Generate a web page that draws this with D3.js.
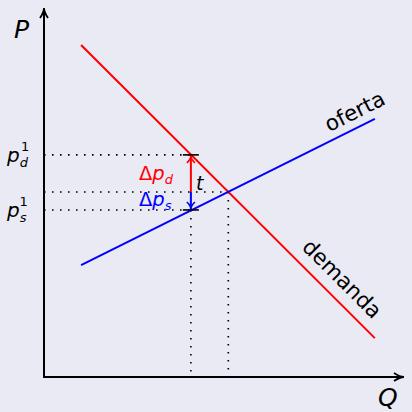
<!DOCTYPE html>
<html>
<head>
<meta charset="utf-8">
<script src="https://cdn.jsdelivr.net/npm/d3@7"></script>
<style>
  html, body { margin: 0; padding: 0; background: #eaeaf4; }
  text { font-family: "DejaVu Sans", sans-serif; }
</style>
</head>
<body>
<div id="chart"></div>
<script>
// line endpoints (units: Q 0..10, P 0..10)
const demandQ = [1.03, 9.19];
const demandP = [9.22, 1.08];
const supplyQ = [1.03, 9.19];
const supplyP = [3.11, 7.17];

// tax quantity / prices
const qTax = 4.08;
const pBuyer = 6.17;   // p_d^1
const pSeller = 4.64;  // p_s^1
const qEq = 5.12;
const pEq = 5.14;

const width = 412, height = 412;
const margin = { top: 17, right: 8, bottom: 35, left: 44 };

const x = d3.scaleLinear().domain([0, 10]).range([margin.left, margin.left + 360]);
const y = d3.scaleLinear().domain([0, 10]).range([377, 17]);

const svg = d3.create("svg")
    .attr("width", width)
    .attr("height", height);

svg.append("rect").attr("width", width).attr("height", height).attr("fill", "#eaeaf4");

// dotted guide lines
const dotted = (x1, y1, x2, y2) => svg.append("line")
    .attr("x1", x1).attr("y1", y1).attr("x2", x2).attr("y2", y2)
    .attr("stroke", "#000")
    .attr("stroke-width", 1.6)
    .attr("stroke-dasharray", "1.6 6.4");

dotted(x(0), y(pBuyer), x(qTax), y(pBuyer));
dotted(x(0), y(pEq), x(qEq), y(pEq));
dotted(x(0), y(pSeller), x(qTax), y(pSeller));
dotted(x(qTax), y(pSeller), x(qTax), y(0));
dotted(x(qEq), y(pEq), x(qEq), y(0));

// curves
const line = d3.line().x(d => x(d[0])).y(d => y(d[1]));
svg.append("path")
    .attr("d", line(d3.zip(demandQ, demandP)))
    .attr("stroke", "#ff0000").attr("stroke-width", 2).attr("fill", "none");
svg.append("path")
    .attr("d", line(d3.zip(supplyQ, supplyP)))
    .attr("stroke", "#0000ff").attr("stroke-width", 2).attr("fill", "none");

// small ticks at p_d and p_s on the tax quantity
[pBuyer, pSeller].forEach(p => {
    svg.append("line")
        .attr("x1", x(qTax) - 8).attr("x2", x(qTax) + 8)
        .attr("y1", y(p)).attr("y2", y(p))
        .attr("stroke", "#000").attr("stroke-width", 1.6);
});

// arrows: red up to p_d, blue down to p_s
const head = (cx, cy, dir, color) => {
    // open arrow head, dir = -1 up, 1 down
    svg.append("path")
        .attr("d", `M${cx - 4},${cy - dir * 7} Q${cx},${cy - dir * 3} ${cx},${cy} Q${cx},${cy - dir * 3} ${cx + 4},${cy - dir * 7}`)
        .attr("stroke", color).attr("stroke-width", 1.6).attr("fill", "none");
};
svg.append("line")
    .attr("x1", x(qTax)).attr("x2", x(qTax))
    .attr("y1", y(pEq)).attr("y2", y(pBuyer) + 1)
    .attr("stroke", "#ff0000").attr("stroke-width", 2);
head(x(qTax), y(pBuyer) + 1, -1, "#ff0000");
svg.append("line")
    .attr("x1", x(qTax)).attr("x2", x(qTax))
    .attr("y1", y(pEq)).attr("y2", y(pSeller) - 1)
    .attr("stroke", "#0000ff").attr("stroke-width", 2);
head(x(qTax), y(pSeller) - 1, 1, "#0000ff");

// axes with arrows
svg.append("line")
    .attr("x1", x(0)).attr("y1", y(0)).attr("x2", x(0)).attr("y2", 9)
    .attr("stroke", "#000").attr("stroke-width", 2);
svg.append("line")
    .attr("x1", x(0) - 1).attr("y1", y(0)).attr("x2", 403).attr("y2", y(0))
    .attr("stroke", "#000").attr("stroke-width", 2);
svg.append("path")
    .attr("d", `M${x(0) - 4},${18} Q${x(0)},${12} ${x(0)},${8} Q${x(0)},${12} ${x(0) + 4},${18}`)
    .attr("stroke", "#000").attr("stroke-width", 1.8).attr("fill", "none");
svg.append("path")
    .attr("d", `M394,${y(0) - 4} Q400,${y(0)} 404,${y(0)} Q400,${y(0)} 394,${y(0) + 4}`)
    .attr("stroke", "#000").attr("stroke-width", 1.8).attr("fill", "none");

// axis labels
svg.append("text").attr("x", 14).attr("y", 38)
    .attr("font-size", 25).attr("font-style", "italic").text("P");
svg.append("text").attr("x", 378).attr("y", 406)
    .attr("font-size", 25).attr("font-style", "italic").text("Q");

// price labels p_d^1, p_s^1
const priceLabel = (p, sub) => {
    const t = svg.append("text").attr("x", 7).attr("y", y(p) + 7)
        .attr("font-size", 20).attr("font-style", "italic");
    t.append("tspan").text("p");
    t.append("tspan").attr("font-size", 13).attr("dy", 5).text(sub);
    t.append("tspan").attr("font-size", 13).attr("font-style", "normal")
        .attr("dx", -7).attr("dy", -16).text("1");
};
priceLabel(pBuyer, "d");
priceLabel(pSeller, "s");

// delta labels
const deltaLabel = (yy, sub, color) => {
    const t = svg.append("text").attr("x", 139).attr("y", yy)
        .attr("font-size", 19.5).attr("fill", color);
    t.append("tspan").text("Δ");
    t.append("tspan").attr("font-style", "italic").text("p");
    t.append("tspan").attr("font-style", "italic").attr("font-size", 13).attr("dy", 4).text(sub);
};
deltaLabel(180, "d", "#ff0000");
deltaLabel(206, "s", "#0000ff");

svg.append("text").attr("x", 196).attr("y", 190)
    .attr("font-size", 19).attr("font-style", "italic").text("t");

// curve names
const supAngle = -Math.atan2(y(supplyP[0]) - y(supplyP[1]), x(supplyQ[1]) - x(supplyQ[0])) * 180 / Math.PI;
const demAngle = Math.atan2(y(demandP[1]) - y(demandP[0]), x(demandQ[1]) - x(demandQ[0])) * 180 / Math.PI;
svg.append("text")
    .attr("transform", `translate(358,118) rotate(${supAngle})`)
    .attr("text-anchor", "middle").attr("font-size", 21.5).text("oferta");
svg.append("text")
    .attr("transform", `translate(337,284) rotate(${demAngle})`)
    .attr("text-anchor", "middle").attr("font-size", 21.5).text("demanda");

document.getElementById("chart").appendChild(svg.node());
</script>
</body>
</html>
